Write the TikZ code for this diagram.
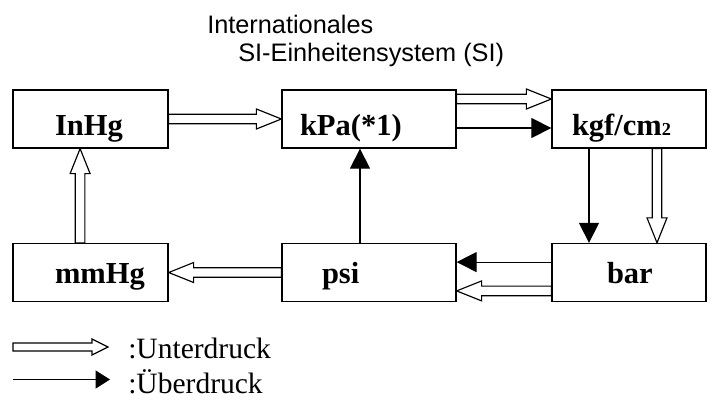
\documentclass[tikz,border=0pt]{standalone}
\usepackage{fontspec}
\setmainfont{Liberation Serif}
\newfontfamily\titlefont{Liberation Sans}
\usepackage{tikz}
\usetikzlibrary{
  arrows.meta,
  calc,
  positioning
}
\tikzset{
  unitbox/.style={
    draw,
    line width=0.9pt,
    text width=#1,
    inner xsep=0pt,
    align=left,
    minimum height=1.45cm,
    text height=0.8cm,
    text depth=0pt,
    font=\fontsize{21.7pt}{24pt}\selectfont\bfseries
  },
  lowrow/.style={ text height=0.525cm },
  titletext/.style={
    inner sep=0pt,
    anchor=base west,
    font=\titlefont\fontsize{18pt}{20pt}\selectfont
  },
  legendtext/.style={
    inner sep=0pt,
    anchor=base west,
    font=\fontsize{21pt}{23pt}\selectfont
  },
  solidarrow/.style={
    draw,
    line width=0.8pt,
    -{Triangle[length=0.5cm, width=0.5cm]}
  },
  hollow size/.code args={#1/#2/#3}{\def\hshaft{#1}\def\hhead{#2}\def\hlen{#3}},
  hollow size=0.12cm/0.25cm/0.625cm,
  hollow/.style={
    draw,
    line width=0.8pt,
    fill=white,
    to path={
      let \p1=($(\tikztotarget)!\hlen!(\tikztostart)$) in
      ($(\tikztostart)!\hshaft!90:(\tikztotarget)$) --
      ($(\p1)!\hshaft!90:(\tikztotarget)$) --
      ($(\p1)!\hhead!90:(\tikztotarget)$) --
      (\tikztotarget) --
      ($(\p1)!\hhead!-90:(\tikztotarget)$) --
      ($(\p1)!\hshaft!-90:(\tikztotarget)$) --
      ($(\tikztostart)!\hshaft!-90:(\tikztotarget)$) -- cycle
    }
  }
}

\begin{document}
\begin{tikzpicture}
\useasboundingbox (0,0) rectangle (17.8,9.975);

% title
\node[titletext] (intl) at (5.175,9.15) {Internationales};
\node[titletext] (sisys) at (5.95,8.45) {SI-Einheitensystem (SI)};

% units
\node[unitbox=3.875cm] (inhg) at (2.2625,7.0) {\hspace*{1.05cm}InHg};
\node[unitbox=4.35cm] (kpa) at (9.225,7.0) {\hspace*{0.45cm}kPa(*1)};
\node[unitbox=3.85cm] (kgf) at (15.725,7.0) {\hspace*{0.5cm}kgf/cm{\fontsize{13pt}{13pt}\selectfont 2}};
\node[unitbox=3.875cm, lowrow] (mmhg) at (2.2625,3.1625) {\hspace*{1.05cm}mmHg};
\node[unitbox=4.35cm, lowrow] (psi) at (9.225,3.1625) {\hspace*{1.0cm}psi};
\node[unitbox=3.85cm, lowrow] (bar) at (15.725,3.1625) {\hspace*{1.375cm}bar};

% conversions
\draw[hollow] (inhg.east) to (kpa.west);
\draw[hollow] ([yshift=0.5cm]kpa.east) to ([yshift=0.5cm]kgf.west);
\draw[solidarrow] ([yshift=-0.225cm]kpa.east) -- ([yshift=-0.225cm]kgf.west);
\draw[solidarrow] ([xshift=-1cm]kgf.south) -- ([xshift=-1cm]bar.north);
\draw[hollow] ([xshift=0.7cm]kgf.south) to ([xshift=0.7cm]bar.north);
\draw[solidarrow] ([yshift=0.26cm]bar.west) -- ([yshift=0.26cm]psi.east);
\draw[hollow] ([yshift=-0.46cm]bar.west) to ([yshift=-0.46cm]psi.east);
\draw[hollow] (psi.west) to (mmhg.east);
\draw[solidarrow] ([xshift=-0.225cm]psi.north) -- ([xshift=-0.225cm]kpa.south);
\draw[hollow] ([xshift=-0.26cm]mmhg.north) to ([xshift=-0.26cm]inhg.south);

% legend
\coordinate (u0) at (0.325,1.3);
\coordinate (u1) at (2.7,1.3);
\coordinate (o0) at (0.325,0.4875);
\coordinate (o1) at (2.75,0.4875);
\draw[hollow, hollow size=0.1cm/0.2cm/0.4cm] (u0) to (u1);
\draw[solidarrow, -{Triangle[length=0.36cm, width=0.45cm]}] (o0) -- (o1);
\node[legendtext] (under) at (3.2,1.025) {:Unterdruck};
\node[legendtext] (ueber) at (3.2,0.15) {:Überdruck};
\end{tikzpicture}
\end{document}
